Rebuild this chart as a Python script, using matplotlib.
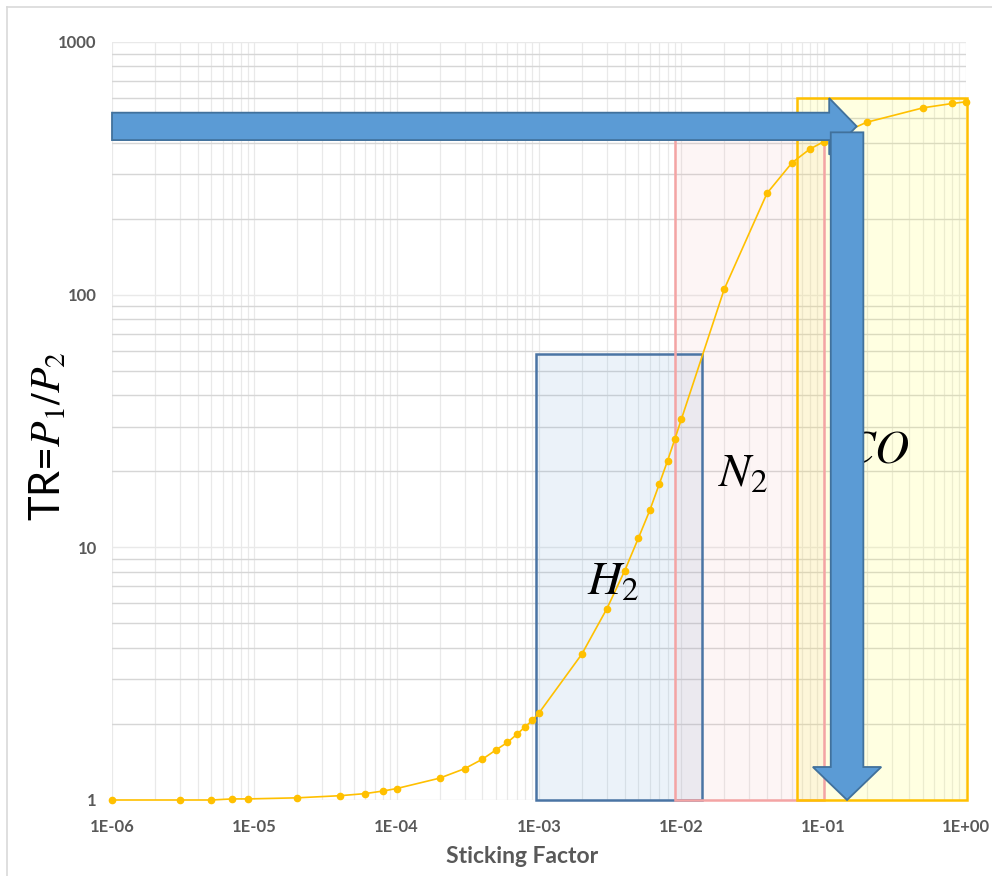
import numpy as np
import matplotlib.pyplot as plt
from matplotlib.patches import Rectangle, Polygon
from matplotlib.lines import Line2D
from matplotlib.ticker import FixedLocator, FixedFormatter, LogLocator

plt.rcParams['mathtext.fontset'] = 'stix'

# sticking factor vs transmission ratio
sticking = [1e-6, 3e-6, 5e-6, 7e-6, 9e-6, 2e-5, 4e-5, 6e-5, 8e-5, 1e-4,
            2e-4, 3e-4, 4e-4, 5e-4, 6e-4, 7e-4, 8e-4, 9e-4, 1e-3,
            2e-3, 3e-3, 4e-3, 5e-3, 6e-3, 7e-3, 8e-3, 9e-3, 1e-2,
            2e-2, 4e-2, 6e-2, 8e-2, 1e-1, 2e-1, 5e-1, 8e-1, 1.0]
tr = [1.0, 1.0, 1.0, 1.01, 1.01, 1.02, 1.04, 1.06, 1.085, 1.11,
      1.22, 1.33, 1.45, 1.58, 1.69, 1.82, 1.95, 2.07, 2.21,
      3.78, 5.72, 8.08, 10.9, 14.0, 17.8, 22.0, 26.8, 32.1,
      105, 252, 333, 377, 403, 481, 549, 571, 580]

# gas regions: (label, x0, x1, y top, label x, label y)
gases = ['$H_2$', '$N_2$', '$CO$']
gas_x0 = [9.5e-4, 9.0e-3, 6.5e-2]
gas_x1 = [1.39e-2, 1.0e-1, 1.01]
gas_top = [58, 460, 598]
gas_lx = [3.3e-3, 2.7e-2, 0.235]
gas_ly = [7.3, 19.5, 24.3]
gas_edge = ['#4a74a4', '#f4a4a4', '#ffc000']
gas_fill = [('#5b9bd5', 0.12), ('#f0a0a0', 0.10), ('#ffff30', 0.14)]

xticks = [1e-6, 1e-5, 1e-4, 1e-3, 1e-2, 1e-1, 1.0]
xticklabels = ['1E-06', '1E-05', '1E-04', '1E-03', '1E-02', '1E-01', '1E+00']
yticks = [1, 10, 100, 1000]
yticklabels = ['1', '10', '100', '1000']

fig = plt.figure(figsize=(9.92, 8.76), dpi=100)
fig.subplots_adjust(left=112 / 992, right=966 / 992, top=1 - 42 / 876, bottom=1 - 800 / 876)
ax = fig.add_subplot(111)
ax.set_xscale('log')
ax.set_yscale('log')
ax.set_xlim(1e-6, 1.0)
ax.set_ylim(1, 1000)

ax.xaxis.set_major_locator(FixedLocator(xticks))
ax.xaxis.set_major_formatter(FixedFormatter(xticklabels))
ax.yaxis.set_major_locator(FixedLocator(yticks))
ax.yaxis.set_major_formatter(FixedFormatter(yticklabels))
ax.xaxis.set_minor_locator(LogLocator(base=10, subs=np.arange(2, 10), numticks=20))
ax.yaxis.set_minor_locator(LogLocator(base=10, subs=np.arange(2, 10), numticks=20))
ax.tick_params(which='both', length=0)
ax.tick_params(axis='x', pad=14)
ax.tick_params(axis='y', pad=11)
for lab in ax.get_xticklabels() + ax.get_yticklabels():
    lab.set_fontfamily('Lato')
    lab.set_fontweight('bold')
    lab.set_fontsize(12)
    lab.set_color('#595959')
ax.xaxis.set_minor_formatter(FixedFormatter([]))
ax.yaxis.set_minor_formatter(FixedFormatter([]))

ax.grid(axis='x', which='both', color='#e9e9e9', lw=0.9, zorder=0)
ax.grid(axis='y', which='major', color='#e9e9e9', lw=1.0, zorder=0)
ax.grid(axis='y', which='minor', color='#d6d6d6', lw=1.0, zorder=0)
ax.set_axisbelow(True)
for s in ax.spines.values():
    s.set_visible(False)

for i in range(len(gases)):
    c, a = gas_fill[i]
    ax.add_patch(Rectangle((gas_x0[i], 1), gas_x1[i] - gas_x0[i], gas_top[i] - 1,
                           facecolor=c, alpha=a, edgecolor='none', zorder=1))
    ax.add_patch(Rectangle((gas_x0[i], 1), gas_x1[i] - gas_x0[i], gas_top[i] - 1,
                           facecolor='none', edgecolor=gas_edge[i], lw=1.8, zorder=2,
                           clip_on=False))
    ax.text(gas_lx[i], gas_ly[i], gases[i], fontsize=34, ha='center', va='center',
            color='black', zorder=4)

ax.plot(sticking, tr, color='#ffc000', lw=1.2, marker='o', ms=4.5, zorder=3, clip_on=False)

ax.set_xlabel('Sticking Factor', fontfamily='Lato', fontweight='bold', fontsize=16.5,
              color='#595959')
ax.xaxis.set_label_coords(0.48, -0.061)
ax.set_ylabel('TR=$P_1/P_2$', fontfamily='Lato', fontsize=30, color='black',
              rotation=90, va='center', ha='center')
ax.yaxis.set_label_coords(-0.075, 0.48)


def block_arrow(start, end, shaft, head_w, head_l, z):
    # start/end in data coords, widths in pixels
    p0 = ax.transData.transform(start)
    p1 = ax.transData.transform(end)
    d = p1 - p0
    L = np.hypot(*d)
    u = d / L
    n = np.array([-u[1], u[0]])
    b = p1 - u * head_l
    pts = [p0 + n * shaft, b + n * shaft, b + n * head_w, p1,
           b - n * head_w, b - n * shaft, p0 - n * shaft]
    pts = ax.transAxes.inverted().transform(np.array(pts))
    ax.add_patch(Polygon(pts, closed=True, transform=ax.transAxes, facecolor='#5b9bd5',
                         edgecolor='#41719c', lw=1.3, zorder=z, clip_on=False))


fig.canvas.draw()
block_arrow((1e-6, 463.5), (0.1706, 463.5), 13.7, 28.3, 27.5, 5)
block_arrow((0.146, 439), (0.146, 1.0), 16.3, 34.2, 33, 6)

# outer frame of the chart object
fig.add_artist(Line2D([7 / 992, 1.0], [1 - 7 / 876, 1 - 7 / 876], color='#d9d9d9', lw=1.2))
fig.add_artist(Line2D([7 / 992, 7 / 992], [0.0, 1 - 7 / 876], color='#d9d9d9', lw=1.2))

fig.savefig('out.png', dpi=100)
